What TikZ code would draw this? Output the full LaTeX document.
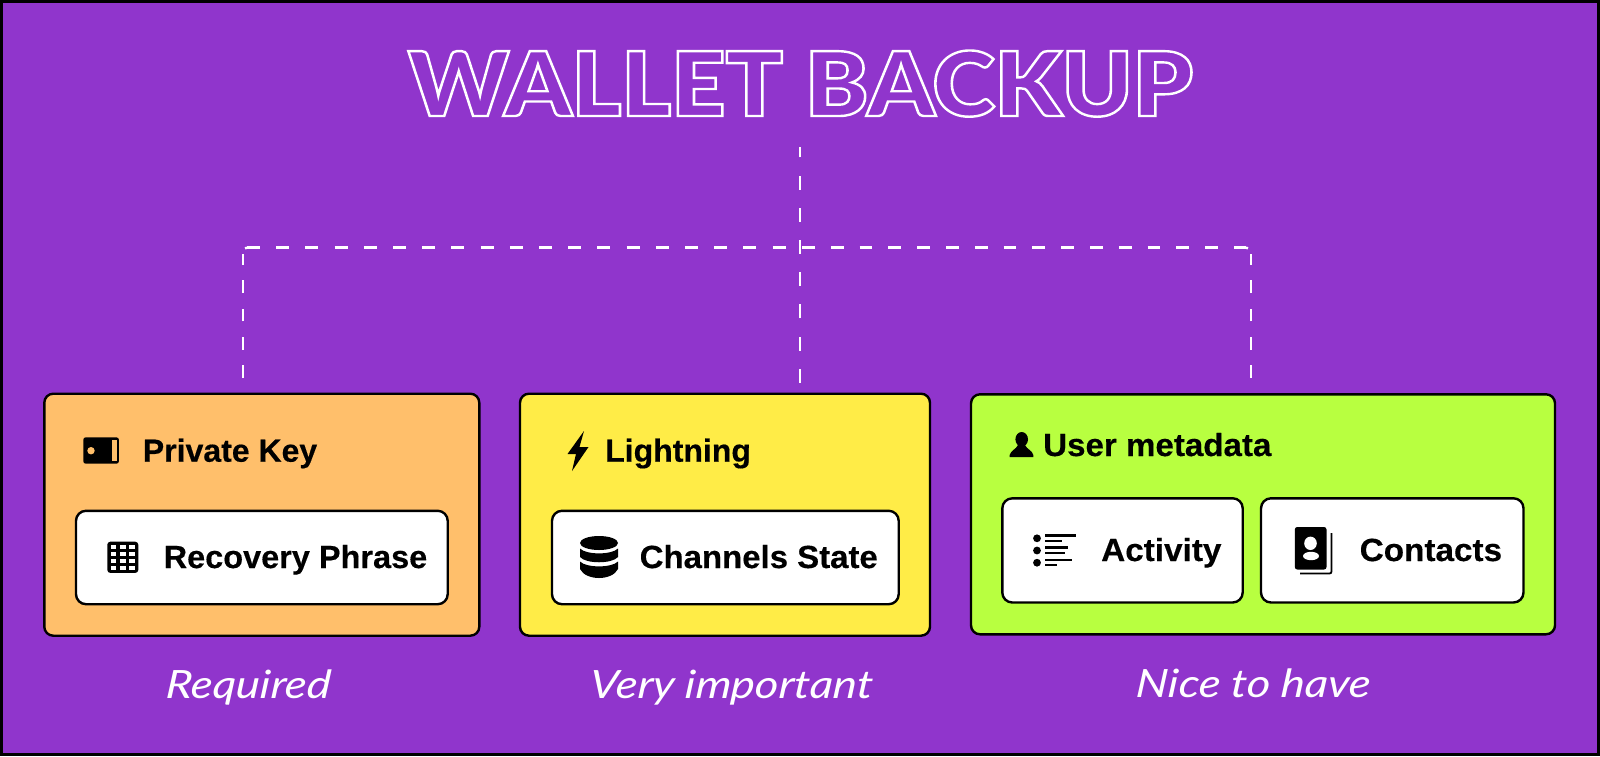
\documentclass[tikz,border=0pt]{standalone}
\usepackage{fontspec}
\setmainfont{Liberation Sans}[BoldFeatures={FakeBold=0.35}]
\newfontfamily\titlefont{Lato Black}
\newfontfamily\capfont{Lato Italic}[FakeStretch=1.16,FakeSlant=0.08]
\definecolor{bgp}{HTML}{9035CC}
\definecolor{orangebox}{HTML}{FFBF6B}
\definecolor{yellowbox}{HTML}{FFEC47}
\definecolor{greenbox}{HTML}{B8FF40}
\newcommand{\outl}[1]{\special{pdf:code q 1 Tr 1 1 1 RG 2.4 w}#1\special{pdf:code Q}}
\tikzset{
 x=1pt,y=-1pt,
 group/.style={draw=black,line width=2.4pt,rounded corners=9pt,outer sep=0pt,inner sep=0pt,anchor=north west},
 item/.style={draw=black,fill=white,line width=2.4pt,rounded corners=10pt,outer sep=0pt,inner sep=0pt,anchor=north west},
 lbl/.style={anchor=base west,inner sep=0pt,font=\bfseries\fontsize{32}{32}\selectfont,text=black},
 sx/.style={xscale=#1,transform shape},
 capt/.style={anchor=base,inner sep=0pt,font=\capfont\fontsize{39}{39}\selectfont,text=white},
 vdash/.style={draw=white,line width=2.4pt,dash pattern=on 14pt off 18.2pt},
 sdash/.style={draw=white,line width=2.4pt,dash pattern=on 12.7pt off 15.6pt},
 ldash/.style={draw=white,line width=2.6pt,dash pattern=on 13pt off 16.2pt},
 rdash/.style={draw=white,line width=2.6pt,dash pattern=on 12.8pt off 16pt},
}
\begin{document}
\begin{tikzpicture}
\useasboundingbox (0,0) rectangle (1600,756);
\draw[fill=bgp,draw=black,line width=3pt] (1.5,1.5) rectangle (1598.5,754.5);
\node[anchor=base,inner sep=0pt,sx=1.065,font=\titlefont\fontsize{89}{89}\selectfont] (title) at (800.5,116) {\outl{WALLET BACKUP}};
\coordinate (top) at (800,146.7);
\coordinate (hubl) at (786,247.7);
\coordinate (hubr) at (802,247.7);
\coordinate (cl) at (243,254);
\coordinate (cr) at (1251,254);
\coordinate (hl) at (247,247.7);
\coordinate (hr) at (1246,247.7);
\coordinate (fl) at (243,378);
\coordinate (fm) at (800,382.7);
\coordinate (fr) at (1251,378);
\node[group,fill=orangebox,minimum width=435pt,minimum height=242pt] (g1) at (44.3,393.7) {};
\node[group,fill=yellowbox,minimum width=410pt,minimum height=242pt] (g2) at (520,393.7) {};
\node[group,fill=greenbox,minimum width=584pt,minimum height=240pt] (g3) at (971,394.3) {};
\draw[vdash] (fm) -- (top);
\draw[sdash] (fl) -- (cl);
\draw[sdash] (fr) -- (cr);
\draw[ldash] (hl) -- (hubl);
\draw[rdash] (hubr) -- (hr);
\draw[white,line width=2.4pt] (hl) to[bend right=20] ++(-2,0.6);
\draw[white,line width=2.4pt] (hr) to[bend left=20] ++(2,0.6);
\node[item,minimum width=371.7pt,minimum height=93.4pt] (i1) at (76,510.8) {};
\node[item,minimum width=346.7pt,minimum height=93.4pt] (i2) at (552,510.8) {};
\node[item,minimum width=240.4pt,minimum height=104.2pt] (i3) at (1002.3,498.3) {};
\node[item,minimum width=262.5pt,minimum height=104.2pt] (i4) at (1261,498.3) {};
\node[lbl] (t1) at (142.7,461.7) {Private Key};
\node[lbl] (t2) at (605,461.7) {Lightning};
\node[lbl,sx=1.035] (t3) at (1043,456) {User metadata};
\node[lbl,sx=1.015] (t4) at (163.5,568) {Recovery Phrase};
\node[lbl,sx=1.03] (t5) at (639.5,568) {Channels State};
\node[lbl,sx=1.04] (t6) at (1101,561) {Activity};
\node[lbl,sx=1.04] (t7) at (1359.5,561) {Contacts};
\node[capt] (c1) at (248,698) {Required};
\node[capt] (c2) at (731,698) {Very important};
\node[capt] (c3) at (1253,697) {Nice to have};
% wallet
\fill[black,rounded corners=2.5pt] (83.3,437.3) rectangle (118.9,463.7);
\fill[orangebox] (112.3,440) rectangle (116.7,461);
\fill[orangebox] (91,450.7) circle (3.7);
% grid
\fill[black,rounded corners=3pt] (107.3,541.7) rectangle (138.3,572.9);
\foreach \i in {0,1,2}\foreach \j in {0,1,2,3}{\fill[white] (110.7+\i*9.3,545+\j*7) rectangle +(5.5,4.2);}
% bolt
\fill[black] (584,431) -- (567.5,454) -- (576,454) -- (572,471) -- (588.5,447) -- (579.5,447) -- cycle;
% db
\fill[black] (599,543) ellipse (19 and 7);
\fill[black] (580,548.5) .. controls (586,555) and (612,555) .. (618,548.5) -- (618,557) .. controls (612,564) and (586,564) .. (580,557) -- cycle;
\fill[black] (580,561.5) .. controls (586,568) and (612,568) .. (618,561.5) -- (618,569) .. controls (612,581) and (586,581) .. (580,569) -- cycle;
% person
\fill[black] (1021.7,439.3) ellipse (6.3 and 7.3);
\fill[black] (1009.7,457) -- (1009.7,455) .. controls (1011,450) and (1016,449.5) .. (1018,445) -- (1025,445) .. controls (1027,449.5) and (1032,450) .. (1033.3,455) -- (1033.3,457) -- cycle;
% activity
\foreach \yy in {538.3,550.5,562.7}{\fill[black] (1037,\yy) circle (3.9);}
\foreach \yy/\xe in {535.5/1076,541/1062,547.5/1068,553/1065,559.7/1072,565/1057}{\draw[black,line width=2.2pt] (1045,\yy) -- (\xe,\yy);}
% contacts
\fill[black,rounded corners=2.5pt] (1294.8,527) rectangle (1326.5,569.5);
\fill[white] (1310.5,543.3) ellipse (6.3 and 6.7);
\fill[white] (1311,556) ellipse (8 and 4.2);
\draw[black,line width=1.8pt,rounded corners=2pt] (1300,573.5) -- (1331.5,573.5) -- (1331.5,533);
\end{tikzpicture}
\end{document}
